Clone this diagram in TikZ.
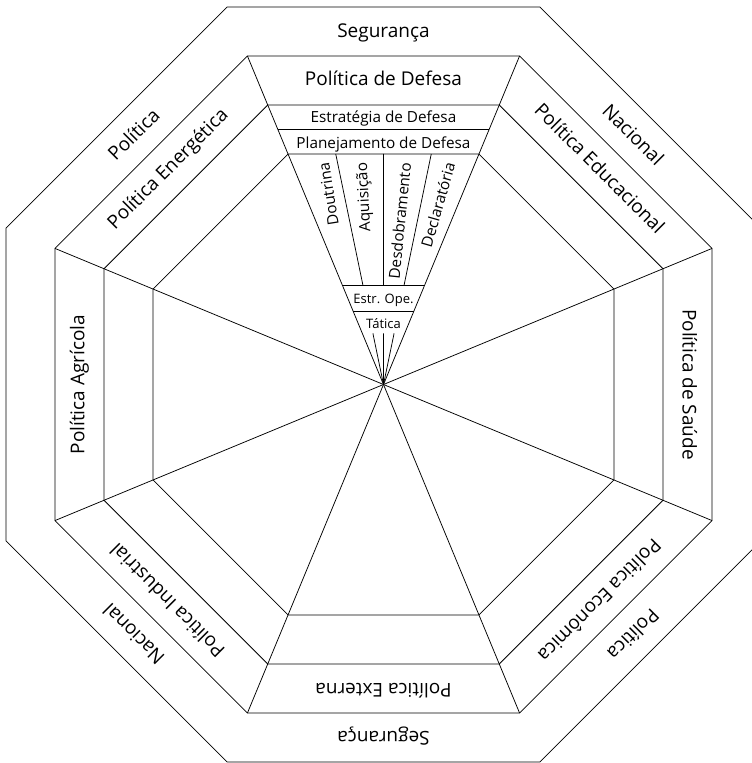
\documentclass[tikz,border=0pt]{standalone}
\usepackage{fontspec}
\setmainfont{Open Sans}
\begin{document}
\begin{tikzpicture}[x=1pt,y=1pt,line width=0.75pt,
  big/.style={font=\fontsize{19}{19}\selectfont,inner sep=0pt,anchor=base},
  mid/.style={font=\fontsize{15.3}{15.3}\selectfont,inner sep=0pt,anchor=base},
  small/.style={font=\fontsize{13}{13}\selectfont,inner sep=0pt,anchor=base},
  raylab/.style={font=\fontsize{15.3}{15.3}\selectfont,inner sep=0pt,anchor=east}]
\useasboundingbox (-383.5,-378.5) rectangle (368.5,384.5);
\begin{scope}
\clip (-383.5,-378.5) rectangle (368.5,384.5);
\coordinate (C) at (0,0);
\foreach \k in {0,...,7}{
  \coordinate (O\k) at ({22.5+45*\k}:408.6);
  \coordinate (M\k) at ({22.5+45*\k}:355.57);
  \coordinate (T\k) at ({22.5+45*\k}:302.53);
  \coordinate (I\k) at ({22.5+45*\k}:249.49);
}
% octagons
\draw (O0)--(O1)--(O2)--(O3)--(O4)--(O5)--(O6)--(O7)--cycle;
\draw (M0)--(M1)--(M2)--(M3)--(M4)--(M5)--(M6)--(M7)--cycle;
\draw (T0)--(T1)--(T2)--(T3)--(T4)--(T5)--(T6)--(T7)--cycle;
\draw (I0)--(I1)--(I2)--(I3)--(I4)--(I5)--(I6)--(I7)--cycle;
% spokes
\foreach \k in {0,...,7}{\draw (C)--(M\k);}
% top wedge divisions
\coordinate (hA) at (-105.83,255.5);
\coordinate (hB) at (105.83,255.5);
\draw (hA)--(hB);
\coordinate (eA) at (-41.01,99);
\coordinate (eB) at (41.01,99);
\draw (eA)--(eB);
\coordinate (tA) at (-30.15,72.8);
\coordinate (tB) at (30.15,72.8);
\draw (tA)--(tB);
\coordinate (r1a) at (-47.75,230.5); \coordinate (r1b) at (-20.51,99); \coordinate (r1c) at (-10.61,51.2);
\coordinate (r2a) at (0,230.5);      \coordinate (r2b) at (0,99);      \coordinate (r2c) at (0,51.2);
\coordinate (r3a) at (47.75,230.5);  \coordinate (r3b) at (20.51,99);  \coordinate (r3c) at (10.61,51.2);
\draw (r1a)--(r1b) (r2a)--(r2b) (r3a)--(r3b);
\draw (r1c)--(C) (r2c)--(C) (r3c)--(C);
\end{scope}
% outer ring labels
\node[big] (segT) at (90:346.5) {Segurança};
\node[big,rotate=-45] (nacTR) at (45:346.5) {Nacional};
\node[big,rotate=45] (polTL) at (135:346.5) {Política};
\node[big,rotate=135] (nacBL) at (225:346.5) {Nacional};
\node[big,rotate=180] (segB) at (270:346.5) {Segurança};
\node[big,rotate=225] (polBR) at (315:346.5) {Política};
% middle ring labels
\node[big] (pdef) at (90:299) {Política de Defesa};
\node[big,rotate=45] (pene) at (135:299) {Política Energética};
\node[big,rotate=90] (pagr) at (180:299) {Política Agrícola};
\node[big,rotate=135] (pind) at (225:299) {Política Industrial};
\node[big,rotate=180] (pext) at (270:299) {Política Externa};
\node[big,rotate=225] (peco) at (315:299) {Política Econômica};
\node[big,rotate=-90] (psau) at (0:299) {Política de Saúde};
\node[big,rotate=-45] (pedu) at (45:299) {Política Educacional};
% top wedge labels
\node[mid] (estr) at (0,261.5) {Estratégia de Defesa};
\node[mid] (plan) at (0,236.2) {Planejamento de Defesa};
\node[small] (eope) at (0,81.2) {Estr. Ope.};
\node[small] (tat) at (0,56.2) {Tática};
\node[raylab,rotate=99] (dou) at (-60,222) {Doutrina};
\node[raylab,rotate=93] (aqu) at (-20.5,222) {Aquisição};
\node[raylab,rotate=84.3] (des) at (22,222) {Desdobramento};
\node[raylab,rotate=74] (dec) at (66.5,222) {Declaratória};
\end{tikzpicture}
\end{document}
